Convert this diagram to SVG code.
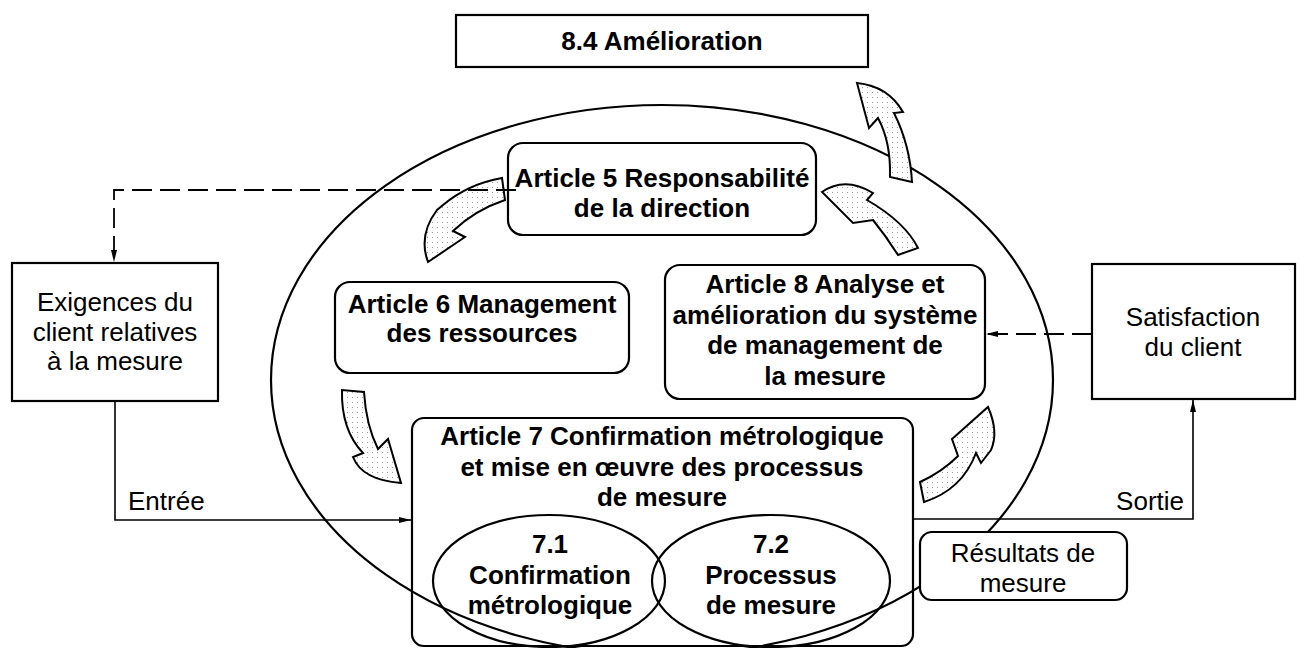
<svg xmlns="http://www.w3.org/2000/svg" width="1301" height="648" viewBox="0 0 1301 648">
<defs>
<style>
.box{fill:#fff;stroke:#000;stroke-width:2.2}
.open{fill:none;stroke:#000;stroke-width:2.2}
.b{font-family:"Liberation Sans",Arial,sans-serif;font-weight:bold;font-size:26px;text-anchor:middle;fill:#000}
.r{font-family:"Liberation Sans",Arial,sans-serif;font-size:26px;text-anchor:middle;fill:#000}
.line{fill:none;stroke:#000;stroke-width:1.6}
.dash{fill:none;stroke:#000;stroke-width:1.8;stroke-dasharray:20 8}
.blk{fill:url(#dots);stroke:#000;stroke-width:2;stroke-linejoin:miter}
</style>
<pattern id="dots" width="5" height="5" patternUnits="userSpaceOnUse">
<rect width="5" height="5" fill="#fff"/>
<rect x="2" y="2" width="1" height="1" fill="#999"/>
</pattern>
<marker id="ah" viewBox="0 0 12 6" refX="12" refY="3" markerWidth="12" markerHeight="6" orient="auto" markerUnits="userSpaceOnUse">
<path d="M0,0 L12,3 L0,6 Z" fill="#000"/>
</marker>
</defs>
<rect width="1301" height="648" fill="#fff"/>

<g id="scope">
<ellipse cx="662" cy="380" rx="391" ry="275" class="open"/>
</g>

<g id="art7">
<rect x="412" y="418" width="501" height="228" rx="12" class="open"/>
<text class="b" x="662" y="445">Article 7 Confirmation métrologique</text>
<text class="b" x="662" y="476">et mise en œuvre des processus</text>
<text class="b" x="662" y="506">de mesure</text>
</g>
<g id="n71">
<ellipse cx="549" cy="581" rx="116" ry="66" class="open"/>
<text class="b" x="550" y="553">7.1</text>
<text class="b" x="550" y="584">Confirmation</text>
<text class="b" x="550" y="614">métrologique</text>
</g>
<g id="n72">
<ellipse cx="771" cy="581" rx="119" ry="66" class="open"/>
<text class="b" x="771" y="553">7.2</text>
<text class="b" x="771" y="584">Processus</text>
<text class="b" x="771" y="614">de mesure</text>
</g>

<g id="amelioration">
<rect x="456" y="15" width="412" height="52" class="box"/>
<text class="b" x="662" y="50">8.4 Amélioration</text>
</g>
<g id="art5">
<rect x="508" y="143" width="308" height="92" rx="15" class="box"/>
<text class="b" x="662" y="187">Article 5 Responsabilité</text>
<text class="b" x="662" y="217">de la direction</text>
</g>
<g id="art6">
<rect x="335" y="282" width="294" height="91" rx="15" class="box"/>
<text class="b" x="482" y="313">Article 6 Management</text>
<text class="b" x="482" y="342">des ressources</text>
</g>
<g id="art8">
<rect x="665" y="265" width="320" height="134" rx="15" class="box"/>
<text class="b" x="825" y="293">Article 8 Analyse et</text>
<text class="b" x="825" y="324">amélioration du système</text>
<text class="b" x="825" y="354">de management de</text>
<text class="b" x="825" y="385">la mesure</text>
</g>
<g id="exigences">
<rect x="12" y="263" width="206" height="138" class="box"/>
<text class="r" x="115" y="311">Exigences du</text>
<text class="r" x="115" y="341">client relatives</text>
<text class="r" x="115" y="370">à la mesure</text>
</g>
<g id="satisfaction">
<rect x="1092" y="264" width="203" height="135" class="box"/>
<text class="r" x="1193" y="326">Satisfaction</text>
<text class="r" x="1193" y="356">du client</text>
</g>
<g id="resultats">
<rect x="920" y="532" width="207" height="68" rx="12" class="box"/>
<text class="r" x="1023" y="562">Résultats de</text>
<text class="r" x="1023" y="592">mesure</text>
</g>

<g id="connectors">
<path class="blk" d="M502,178 Q468,184 443,205 L437,210 Q418,235 428,262 L465,237 L453,231 Q475,210 505,200 Z"/>
<path class="blk" d="M342,390 Q341,430 363,453 L353,457 Q362,480 401,483 L388,439 L378,449 Q366,425 364,392 Z"/>
<path class="blk" d="M920,482 Q942,472 958,456 L952,439 L988,407 Q999,432 991,450 L981,463 L976,453 Q962,490 924,502 Z"/>
<path class="blk" d="M918,248 Q905,222 867,200 L873,193 Q845,176 822,192 L853,223 L873,220 Q886,236 898,255 Z"/>
<path class="blk" d="M890,177 Q891,142 878,118 L869,128 L857,83 Q888,86 903,112 L894,113 Q910,145 912,182 Z"/>
<path class="dash" d="M516,190 H114 V262" marker-end="url(#ah)"/>
<path class="dash" d="M1092,334 H986" marker-end="url(#ah)"/>
<path class="line" d="M115,401 V520 H411" marker-end="url(#ah)"/>
<path class="line" d="M913,519 H1193 V400" marker-end="url(#ah)"/>
<text class="r" x="128" y="510" text-anchor="start" style="text-anchor:start">Entrée</text>
<text class="r" x="1184" y="510" style="text-anchor:end">Sortie</text>
</g>
</svg>
